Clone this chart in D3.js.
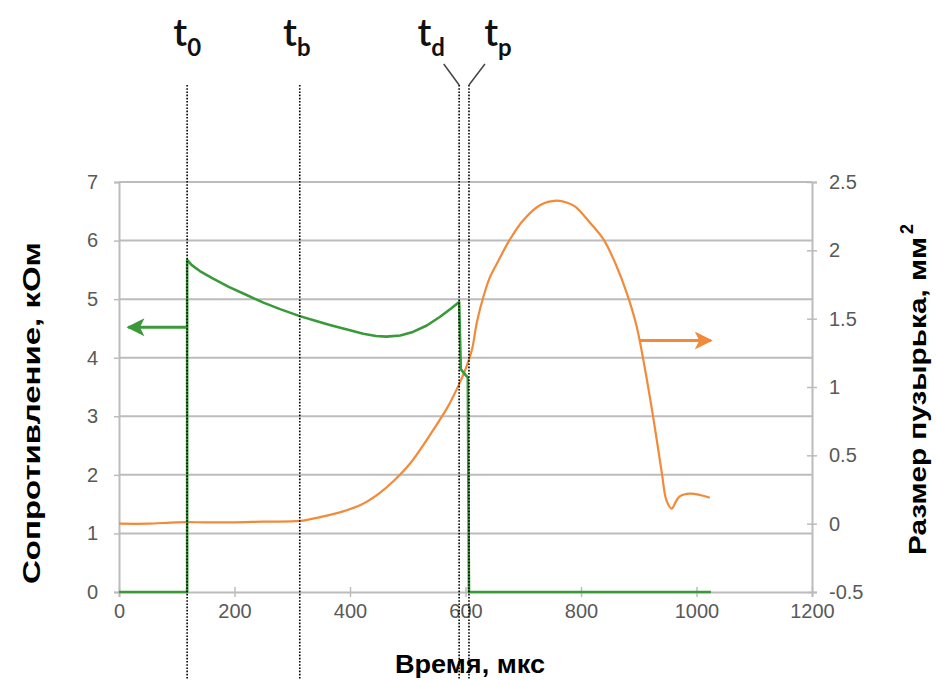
<!DOCTYPE html>
<html>
<head>
<meta charset="utf-8">
<script src="https://d3js.org/d3.v7.min.js"></script>
<style>
  body { margin: 0; background: #fff; }
  svg { display: block; }
</style>
</head>
<body>
<div id="chart"></div>
<script>
// Resistance (green, left axis) and bubble size (orange, right axis) vs time
const greenT = [0, 118, 118, 126, 140, 163, 190, 221, 250, 279, 313, 340, 365, 395, 423, 445, 463, 487, 509, 533, 556, 575, 589, 592, 604, 606, 1025];
const greenR = [0, 0, 5.67, 5.58, 5.48, 5.35, 5.21, 5.07, 4.94, 4.83, 4.71, 4.63, 4.56, 4.48, 4.41, 4.37, 4.36, 4.38, 4.44, 4.55, 4.70, 4.84, 4.95, 3.8, 3.66, 0, 0];

const orangeT = [0, 50, 100, 150, 200, 250, 313, 350, 388, 420, 450, 475, 504, 544, 570, 590, 600, 611, 620, 631, 642, 654, 677, 700, 729, 758, 775, 790, 816, 839, 860, 879, 896, 910, 925, 940, 948, 957, 964, 971, 989, 1006, 1023];
const orangeV = [0.0, 0.0, 0.01, 0.01, 0.01, 0.015, 0.02, 0.05, 0.09, 0.14, 0.22, 0.31, 0.44, 0.685, 0.86, 1.03, 1.13, 1.27, 1.48, 1.66, 1.80, 1.90, 2.08, 2.22, 2.33, 2.363, 2.35, 2.32, 2.20, 2.08, 1.90, 1.69, 1.45, 1.15, 0.78, 0.37, 0.17, 0.11, 0.16, 0.20, 0.22, 0.21, 0.19];

const xTicks = [0, 200, 400, 600, 800, 1000, 1200];
const leftTicks = [0, 1, 2, 3, 4, 5, 6, 7];
const rightTicks = [-0.5, 0, 0.5, 1, 1.5, 2, 2.5];

// marker lines t0, tb, td, tp
const markerTimes = [118, 313, 589, 606];
const markerSubs = ['0', 'b', 'd', 'p'];
const markerLabelShift = [0, -3, -28, 29];

// direction arrows: [from time, to time, value]
const greenArrow = [118, 16, 4.52];
const orangeArrow = [902, 1025, 1.34];

const W = 936, H = 680;
const svg = d3.select('#chart').append('svg')
  .attr('width', W).attr('height', H)
  .style('font-family', 'Lato, "Open Sans", sans-serif');

svg.append('rect').attr('width', W).attr('height', H).attr('fill', '#fff');

const x = d3.scaleLinear().domain([0, 1200]).range([119, 812]);
const yL = d3.scaleLinear().domain([0, 7]).range([592, 182]);
const yR = d3.scaleLinear().domain([-0.5, 2.5]).range([592, 182]);

const gridColor = '#bcbcbc';
const tickColor = '#595959';

// Gridlines
svg.append('g')
  .selectAll('line')
  .data(leftTicks.filter(d => d > 0))
  .join('line')
  .attr('x1', x(0)).attr('x2', x(1200))
  .attr('y1', d => yL(d)).attr('y2', d => yL(d))
  .attr('stroke', gridColor).attr('stroke-width', 2);

// Axes
function styleAxis(g) {
  g.select('.domain').attr('stroke', gridColor).attr('stroke-width', 2);
  g.selectAll('.tick line').attr('stroke', gridColor).attr('stroke-width', 1.5);
  g.selectAll('.tick text').attr('fill', tickColor).attr('font-size', 20);
}
const plain = d => String(d);

const xAxis = svg.append('g')
  .attr('transform', 'translate(0,' + yL(0) + ')')
  .call(d3.axisBottom(x).tickValues(xTicks).tickFormat(plain).tickSizeOuter(0).tickSize(5).tickPadding(7))
  .call(styleAxis);
xAxis.selectAll('.tick line').attr('y1', -5).attr('y2', 5);

const lAxis = svg.append('g')
  .attr('transform', 'translate(' + x(0) + ',0)')
  .call(d3.axisLeft(yL).tickValues(leftTicks).tickFormat(plain).tickSizeOuter(0).tickSize(5).tickPadding(16))
  .call(styleAxis);
lAxis.selectAll('.tick line').attr('x1', -5).attr('x2', 0);

const rAxis = svg.append('g')
  .attr('transform', 'translate(' + x(1200) + ',0)')
  .call(d3.axisRight(yR).tickValues(rightTicks).tickFormat(plain).tickSizeOuter(0).tickSize(5).tickPadding(12))
  .call(styleAxis);
rAxis.selectAll('.tick line').attr('x1', -5).attr('x2', 5);

// Series
const orangeColor = '#f28a3a';
const greenColor = '#3a9a3a';

const orangeLine = d3.line().x((d, i) => x(orangeT[i])).y(d => yR(d)).curve(d3.curveCatmullRom.alpha(0.5));
svg.append('path')
  .datum(orangeV)
  .attr('d', orangeLine)
  .attr('fill', 'none')
  .attr('stroke', orangeColor)
  .attr('stroke-width', 2.2);

const greenLine = d3.line().x((d, i) => x(greenT[i])).y(d => yL(d));
svg.append('path')
  .datum(greenR)
  .attr('d', greenLine)
  .attr('fill', 'none')
  .attr('stroke', greenColor)
  .attr('stroke-width', 2.6)
  .attr('stroke-linejoin', 'round');

// Arrows
const defs = svg.append('defs');
function arrowHead(id, color) {
  defs.append('marker')
    .attr('id', id)
    .attr('viewBox', '0 0 10 10')
    .attr('refX', 9).attr('refY', 5)
    .attr('markerWidth', 9).attr('markerHeight', 6)
    .attr('markerUnits', 'strokeWidth')
    .attr('orient', 'auto')
    .append('path')
    .attr('d', 'M0,0 L10,5 L0,10 L2.5,5 Z')
    .attr('fill', color);
}
arrowHead('ahGreen', greenColor);
arrowHead('ahOrange', orangeColor);

svg.append('line')
  .attr('x1', x(greenArrow[0])).attr('x2', x(greenArrow[1]))
  .attr('y1', yL(greenArrow[2])).attr('y2', yL(greenArrow[2]))
  .attr('stroke', greenColor).attr('stroke-width', 3)
  .attr('marker-end', 'url(#ahGreen)');

svg.append('line')
  .attr('x1', x(orangeArrow[0])).attr('x2', x(orangeArrow[1]))
  .attr('y1', yR(orangeArrow[2])).attr('y2', yR(orangeArrow[2]))
  .attr('stroke', orangeColor).attr('stroke-width', 3)
  .attr('marker-end', 'url(#ahOrange)');

// Marker lines
const lineTop = 85;
svg.append('g')
  .selectAll('line')
  .data(markerTimes)
  .join('line')
  .attr('x1', d => x(d)).attr('x2', d => x(d))
  .attr('y1', lineTop).attr('y2', H)
  .attr('stroke', '#000')
  .attr('stroke-width', 1.6)
  .attr('stroke-dasharray', '1.6,1.6');

// connectors for td, tp
[2, 3].forEach(i => {
  svg.append('line')
    .attr('x1', x(markerTimes[i])).attr('y1', lineTop)
    .attr('x2', x(markerTimes[i]) + markerLabelShift[i] * 0.55).attr('y2', 64)
    .attr('stroke', '#444').attr('stroke-width', 1.5);
});

const labels = svg.append('g')
  .selectAll('text')
  .data(markerTimes)
  .join('text')
  .attr('x', (d, i) => x(d) + markerLabelShift[i])
  .attr('y', 46)
  .attr('text-anchor', 'middle')
  .attr('font-family', 'Lato, sans-serif')
  .attr('fill', '#111');
labels.append('tspan')
  .attr('font-size', 38)
  .attr('font-weight', 600)
  .text('t');
labels.append('tspan')
  .attr('font-size', 24)
  .attr('font-weight', 'bold')
  .attr('dy', 10)
  .text((d, i) => markerSubs[i]);

// Axis titles
svg.append('text')
  .attr('x', 470).attr('y', 673)
  .attr('text-anchor', 'middle')
  .attr('font-family', 'Liberation Sans, Arial, sans-serif')
  .attr('font-weight', 'bold')
  .attr('font-size', 25)
  .attr('textLength', 150)
  .attr('lengthAdjust', 'spacingAndGlyphs')
  .text('Время, мкс');

svg.append('text')
  .attr('transform', 'translate(40,413) rotate(-90)')
  .attr('text-anchor', 'middle')
  .attr('font-family', 'Liberation Sans, Arial, sans-serif')
  .attr('font-weight', 'bold')
  .attr('font-size', 24)
  .attr('textLength', 342)
  .attr('lengthAdjust', 'spacingAndGlyphs')
  .text('Сопротивление, кОм');

const rTitle = svg.append('text')
  .attr('transform', 'translate(926,555) rotate(-90)')
  .attr('text-anchor', 'start')
  .attr('font-family', 'Liberation Sans, Arial, sans-serif')
  .attr('font-weight', 'bold')
  .attr('font-size', 24);
rTitle.append('tspan').attr('textLength', 318).attr('lengthAdjust', 'spacingAndGlyphs').text('Размер пузырька, мм');
rTitle.append('tspan').attr('font-size', 18).attr('dy', -13).attr('dx', 3).text('2');
</script>
</body>
</html>
